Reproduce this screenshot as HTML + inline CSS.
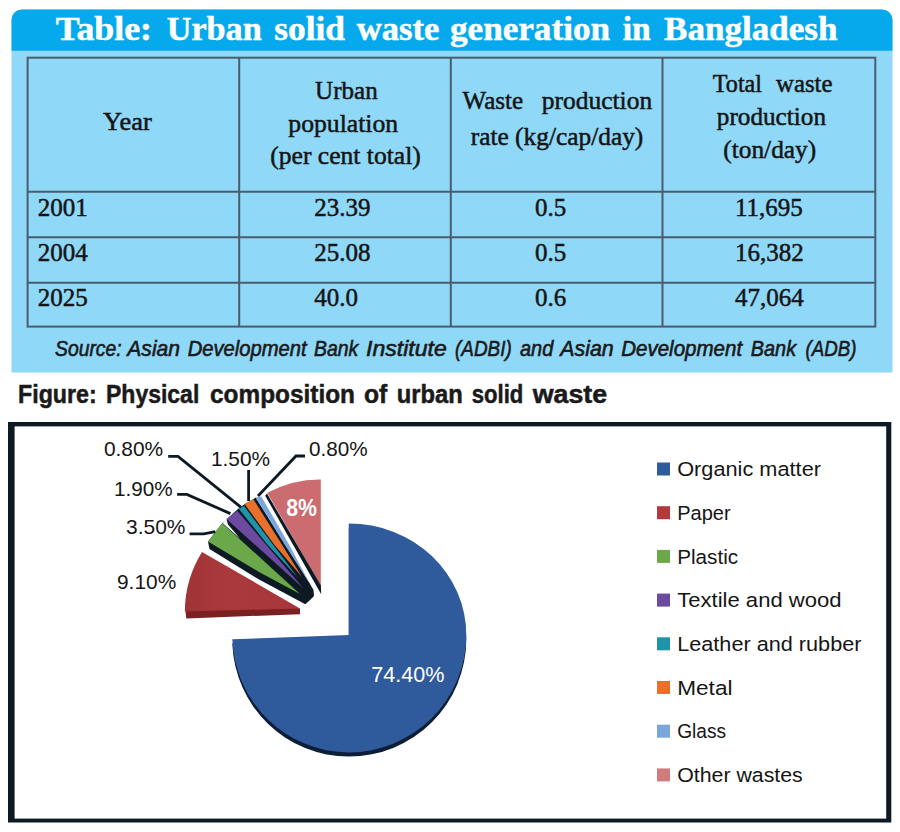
<!DOCTYPE html>
<html><head><meta charset="utf-8"><title>Urban solid waste</title>
<style>
html,body{margin:0;padding:0;background:#ffffff;}
body{width:900px;height:832px;overflow:hidden;font-family:"Liberation Sans",sans-serif;}
svg{display:block;}
text{white-space:pre;}
</style></head><body>
<svg width="900" height="832" viewBox="0 0 900 832">
<rect width="900" height="832" fill="#ffffff"/>
<path d="M11.5,372.5 V20 A10.5,10.5 0 0 1 22,9.5 H882 A10.5,10.5 0 0 1 892.5,20 V372.5 Z" fill="#8fd8f8"/>
<path d="M11.5,50.7 V20 A10.5,10.5 0 0 1 22,9.5 H882 A10.5,10.5 0 0 1 892.5,20 V50.7 Z" fill="#06aaec"/>
<text x="55.8" y="39.8" font-family='"Liberation Serif", serif' font-size="34.5" font-weight="bold" font-style="normal" fill="#ffffff" textLength="96.2" lengthAdjust="spacingAndGlyphs" stroke="#ffffff" stroke-width="0.5">Table:</text>
<text x="166.7" y="39.8" font-family='"Liberation Serif", serif' font-size="34.5" font-weight="bold" font-style="normal" fill="#ffffff" textLength="95.0" lengthAdjust="spacingAndGlyphs" stroke="#ffffff" stroke-width="0.5">Urban</text>
<text x="274.3" y="39.8" font-family='"Liberation Serif", serif' font-size="34.5" font-weight="bold" font-style="normal" fill="#ffffff" textLength="70.7" lengthAdjust="spacingAndGlyphs" stroke="#ffffff" stroke-width="0.5">solid</text>
<text x="356.7" y="39.8" font-family='"Liberation Serif", serif' font-size="34.5" font-weight="bold" font-style="normal" fill="#ffffff" textLength="82.6" lengthAdjust="spacingAndGlyphs" stroke="#ffffff" stroke-width="0.5">waste</text>
<text x="450" y="39.8" font-family='"Liberation Serif", serif' font-size="34.5" font-weight="bold" font-style="normal" fill="#ffffff" textLength="160.0" lengthAdjust="spacingAndGlyphs" stroke="#ffffff" stroke-width="0.5">generation</text>
<text x="622.7" y="39.8" font-family='"Liberation Serif", serif' font-size="34.5" font-weight="bold" font-style="normal" fill="#ffffff" textLength="28.0" lengthAdjust="spacingAndGlyphs" stroke="#ffffff" stroke-width="0.5">in</text>
<text x="664" y="39.8" font-family='"Liberation Serif", serif' font-size="34.5" font-weight="bold" font-style="normal" fill="#ffffff" textLength="173.5" lengthAdjust="spacingAndGlyphs" stroke="#ffffff" stroke-width="0.5">Bangladesh</text>
<g stroke="#4a5c6b" stroke-width="2" fill="none">
<rect x="27.6" y="57.7" width="847.6999999999999" height="268.90000000000003"/>
<line x1="239.2" y1="57.7" x2="239.2" y2="326.6"/>
<line x1="450.8" y1="57.7" x2="450.8" y2="326.6"/>
<line x1="662.5" y1="57.7" x2="662.5" y2="326.6"/>
<line x1="27.6" y1="191.8" x2="875.3" y2="191.8"/>
<line x1="27.6" y1="237.2" x2="875.3" y2="237.2"/>
<line x1="27.6" y1="282.7" x2="875.3" y2="282.7"/>
</g>
<g stroke="#151515" stroke-width="0.5">
<text x="103" y="130.3" font-family='"Liberation Serif", serif' font-size="25" font-weight="normal" font-style="normal" fill="#151515" textLength="48.7" lengthAdjust="spacingAndGlyphs">Year</text>
<text x="315.1" y="99.2" font-family='"Liberation Serif", serif' font-size="25" font-weight="normal" font-style="normal" fill="#151515" textLength="62.6" lengthAdjust="spacingAndGlyphs">Urban</text>
<text x="288.3" y="132.3" font-family='"Liberation Serif", serif' font-size="25" font-weight="normal" font-style="normal" fill="#151515" textLength="109.9" lengthAdjust="spacingAndGlyphs">population</text>
<text x="270.3" y="164" font-family='"Liberation Serif", serif' font-size="25" font-weight="normal" font-style="normal" fill="#151515" textLength="150.5" lengthAdjust="spacingAndGlyphs">(per cent total)</text>
<text x="462.5" y="109" font-family='"Liberation Serif", serif' font-size="25" font-weight="normal" font-style="normal" fill="#151515" textLength="60.7" lengthAdjust="spacingAndGlyphs">Waste</text>
<text x="541.8" y="109" font-family='"Liberation Serif", serif' font-size="25" font-weight="normal" font-style="normal" fill="#151515" textLength="110.4" lengthAdjust="spacingAndGlyphs">production</text>
<text x="470.7" y="145.3" font-family='"Liberation Serif", serif' font-size="25" font-weight="normal" font-style="normal" fill="#151515" textLength="172.6" lengthAdjust="spacingAndGlyphs">rate (kg/cap/day)</text>
<text x="712.8" y="91.5" font-family='"Liberation Serif", serif' font-size="25" font-weight="normal" font-style="normal" fill="#151515" textLength="49.2" lengthAdjust="spacingAndGlyphs">Total</text>
<text x="776" y="91.5" font-family='"Liberation Serif", serif' font-size="25" font-weight="normal" font-style="normal" fill="#151515" textLength="56.5" lengthAdjust="spacingAndGlyphs">waste</text>
<text x="716.8" y="125" font-family='"Liberation Serif", serif' font-size="25" font-weight="normal" font-style="normal" fill="#151515" textLength="109.2" lengthAdjust="spacingAndGlyphs">production</text>
<text x="723.3" y="158.2" font-family='"Liberation Serif", serif' font-size="25" font-weight="normal" font-style="normal" fill="#151515" textLength="92.9" lengthAdjust="spacingAndGlyphs">(ton/day)</text>
<text x="37.8" y="215.7" font-family='"Liberation Serif", serif' font-size="25" font-weight="normal" font-style="normal" fill="#151515">2001</text>
<text x="314.3" y="215.7" font-family='"Liberation Serif", serif' font-size="25" font-weight="normal" font-style="normal" fill="#151515">23.39</text>
<text x="535" y="215.7" font-family='"Liberation Serif", serif' font-size="25" font-weight="normal" font-style="normal" fill="#151515">0.5</text>
<text x="735" y="215.7" font-family='"Liberation Serif", serif' font-size="25" font-weight="normal" font-style="normal" fill="#151515">11,695</text>
<text x="37.8" y="261.1" font-family='"Liberation Serif", serif' font-size="25" font-weight="normal" font-style="normal" fill="#151515">2004</text>
<text x="314.3" y="261.1" font-family='"Liberation Serif", serif' font-size="25" font-weight="normal" font-style="normal" fill="#151515">25.08</text>
<text x="535" y="261.1" font-family='"Liberation Serif", serif' font-size="25" font-weight="normal" font-style="normal" fill="#151515">0.5</text>
<text x="735" y="261.1" font-family='"Liberation Serif", serif' font-size="25" font-weight="normal" font-style="normal" fill="#151515">16,382</text>
<text x="37.8" y="306" font-family='"Liberation Serif", serif' font-size="25" font-weight="normal" font-style="normal" fill="#151515">2025</text>
<text x="314.3" y="306" font-family='"Liberation Serif", serif' font-size="25" font-weight="normal" font-style="normal" fill="#151515">40.0</text>
<text x="535" y="306" font-family='"Liberation Serif", serif' font-size="25" font-weight="normal" font-style="normal" fill="#151515">0.6</text>
<text x="735" y="306" font-family='"Liberation Serif", serif' font-size="25" font-weight="normal" font-style="normal" fill="#151515">47,064</text>
</g>
<text x="55" y="356" font-family='"Liberation Sans", sans-serif' font-size="21.5" font-weight="normal" font-style="italic" fill="#1a1a1a" textLength="66.7" lengthAdjust="spacingAndGlyphs" stroke="#1a1a1a" stroke-width="0.6">Source:</text>
<text x="127.3" y="356" font-family='"Liberation Sans", sans-serif' font-size="21.5" font-weight="normal" font-style="italic" fill="#1a1a1a" textLength="52.7" lengthAdjust="spacingAndGlyphs" stroke="#1a1a1a" stroke-width="0.6">Asian</text>
<text x="187.7" y="356" font-family='"Liberation Sans", sans-serif' font-size="21.5" font-weight="normal" font-style="italic" fill="#1a1a1a" textLength="119.0" lengthAdjust="spacingAndGlyphs" stroke="#1a1a1a" stroke-width="0.6">Development</text>
<text x="314" y="356" font-family='"Liberation Sans", sans-serif' font-size="21.5" font-weight="normal" font-style="italic" fill="#1a1a1a" textLength="44.3" lengthAdjust="spacingAndGlyphs" stroke="#1a1a1a" stroke-width="0.6">Bank</text>
<text x="366" y="356" font-family='"Liberation Sans", sans-serif' font-size="21.5" font-weight="normal" font-style="italic" fill="#1a1a1a" textLength="80.7" lengthAdjust="spacingAndGlyphs" stroke="#1a1a1a" stroke-width="0.6">Institute</text>
<text x="455" y="356" font-family='"Liberation Sans", sans-serif' font-size="21.5" font-weight="normal" font-style="italic" fill="#1a1a1a" textLength="56.7" lengthAdjust="spacingAndGlyphs" stroke="#1a1a1a" stroke-width="0.6">(ADBI)</text>
<text x="520" y="356" font-family='"Liberation Sans", sans-serif' font-size="21.5" font-weight="normal" font-style="italic" fill="#1a1a1a" textLength="33.3" lengthAdjust="spacingAndGlyphs" stroke="#1a1a1a" stroke-width="0.6">and</text>
<text x="560.2" y="356" font-family='"Liberation Sans", sans-serif' font-size="21.5" font-weight="normal" font-style="italic" fill="#1a1a1a" textLength="53.5" lengthAdjust="spacingAndGlyphs" stroke="#1a1a1a" stroke-width="0.6">Asian</text>
<text x="621.2" y="356" font-family='"Liberation Sans", sans-serif' font-size="21.5" font-weight="normal" font-style="italic" fill="#1a1a1a" textLength="120.9" lengthAdjust="spacingAndGlyphs" stroke="#1a1a1a" stroke-width="0.6">Development</text>
<text x="750.8" y="356" font-family='"Liberation Sans", sans-serif' font-size="21.5" font-weight="normal" font-style="italic" fill="#1a1a1a" textLength="45.3" lengthAdjust="spacingAndGlyphs" stroke="#1a1a1a" stroke-width="0.6">Bank</text>
<text x="805.6" y="356" font-family='"Liberation Sans", sans-serif' font-size="21.5" font-weight="normal" font-style="italic" fill="#1a1a1a" textLength="51.0" lengthAdjust="spacingAndGlyphs" stroke="#1a1a1a" stroke-width="0.6">(ADB)</text>
<text x="18" y="403.4" font-family='"Liberation Sans", sans-serif' font-size="25.5" font-weight="bold" font-style="normal" fill="#1a1a1a" textLength="78.7" lengthAdjust="spacingAndGlyphs" stroke="#1a1a1a" stroke-width="0.5">Figure:</text>
<text x="106" y="403.4" font-family='"Liberation Sans", sans-serif' font-size="25.5" font-weight="bold" font-style="normal" fill="#1a1a1a" textLength="93.3" lengthAdjust="spacingAndGlyphs" stroke="#1a1a1a" stroke-width="0.5">Physical</text>
<text x="210" y="403.4" font-family='"Liberation Sans", sans-serif' font-size="25.5" font-weight="bold" font-style="normal" fill="#1a1a1a" textLength="145.0" lengthAdjust="spacingAndGlyphs" stroke="#1a1a1a" stroke-width="0.5">composition</text>
<text x="364" y="403.4" font-family='"Liberation Sans", sans-serif' font-size="25.5" font-weight="bold" font-style="normal" fill="#1a1a1a" textLength="23.3" lengthAdjust="spacingAndGlyphs" stroke="#1a1a1a" stroke-width="0.5">of</text>
<text x="396.7" y="403.4" font-family='"Liberation Sans", sans-serif' font-size="25.5" font-weight="bold" font-style="normal" fill="#1a1a1a" textLength="66.0" lengthAdjust="spacingAndGlyphs" stroke="#1a1a1a" stroke-width="0.5">urban</text>
<text x="471.7" y="403.4" font-family='"Liberation Sans", sans-serif' font-size="25.5" font-weight="bold" font-style="normal" fill="#1a1a1a" textLength="51.6" lengthAdjust="spacingAndGlyphs" stroke="#1a1a1a" stroke-width="0.5">solid</text>
<text x="532.7" y="403.4" font-family='"Liberation Sans", sans-serif' font-size="25.5" font-weight="bold" font-style="normal" fill="#1a1a1a" textLength="74.5" lengthAdjust="spacingAndGlyphs" stroke="#1a1a1a" stroke-width="0.5">waste</text>
<rect x="8" y="422" width="883.3" height="400.5" fill="#0d1a24"/>
<rect x="14.6" y="426.4" width="871.6" height="392.2" fill="#ffffff"/>
<path d="M348.8,635 L348.8,523.4 A117.5,111.6 0 0 1 466.3,635 A117.5,117.4 0 0 1 348.8,752.4 A116.6,117.4 0 0 1 232.3,639.3 Z" fill="#0e1e36" transform="translate(0,4.2)"/>
<path d="M348.8,635 L348.8,523.4 A117.5,111.6 0 0 1 466.3,635 A117.5,117.4 0 0 1 348.8,752.4 A116.6,117.4 0 0 1 232.3,639.3 Z" fill="#2f5b9c"/>
<path d="M320.8,586 L320.8,479.4 A111,111 0 0 0 267.2,492.8 Z" fill="#cb6c70"/>
<polygon points="267,493.6 320.9,585.5 321.2,594.2 265.2,495.7" fill="#0d1a24"/>
<polygon points="255.6,497.4 253.3,499.2 245.3,503.7 239.1,508.1 226.7,519.2 222.2,523.2 208,541.4 209.5,549 260,580.1 305.3,604.2 309.5,600.5 314,596 313.5,590 309.5,583" fill="#0d1a24"/>
<polygon points="226.3,518.7 228,524.5 240,538.6 222.7,523.3" fill="#ffffff"/>
<polygon points="255.6,497.4 261.3,496.6 289.3,545 309.5,583 284.9,545" fill="#7ba6dc"/>
<polygon points="244.6,504.1 253.3,499.2 282.2,545 302,577 274.5,545" fill="#e8702a"/>
<polygon points="238.5,508.4 244,505.9 273.3,545 298.2,578 267.8,545" fill="#1f93a8"/>
<polygon points="226.5,519 237.2,510.7 303.6,588.6" fill="#6b4aa0"/>
<polygon points="208,541.4 222.2,523.2 300,593.9 260,572.6" fill="#6aa84a"/>
<path d="M185.2,609 L186.3,618.5 L300,614.2 L300,608.6 L296,607.5 Z" fill="#7a2023"/>
<defs><linearGradient id="rg" x1="0" y1="0" x2="1" y2="0"><stop offset="0" stop-color="#9f3336"/><stop offset="0.35" stop-color="#aa393c"/><stop offset="1" stop-color="#a8373a"/></linearGradient></defs>
<path d="M300,608.4 L202,552.1 A114,114 0 0 0 184.8,611.5 Z" fill="url(#rg)"/>
<g stroke="#0d1a24" stroke-width="2.8" fill="none" stroke-linejoin="miter">
<polyline points="168.2,456.3 178,456.3 241.1,507.3"/>
<polyline points="177.1,494.4 186.9,494.4 230.4,513.6"/>
<polyline points="189.6,533.8 203.8,533.8 215.3,531.6"/>
<polyline points="248.6,470 248.6,501"/>
<polyline points="305,456 296,456 258,496"/>
</g>
<text x="103.9" y="456.3" font-family='"Liberation Sans", sans-serif' font-size="21" font-weight="normal" font-style="normal" fill="#151515" textLength="59.3" lengthAdjust="spacingAndGlyphs">0.80%</text>
<text x="114" y="496.1" font-family='"Liberation Sans", sans-serif' font-size="21" font-weight="normal" font-style="normal" fill="#151515" textLength="58.7" lengthAdjust="spacingAndGlyphs">1.90%</text>
<text x="126.1" y="534.1" font-family='"Liberation Sans", sans-serif' font-size="21" font-weight="normal" font-style="normal" fill="#151515" textLength="59.4" lengthAdjust="spacingAndGlyphs">3.50%</text>
<text x="117" y="588.9" font-family='"Liberation Sans", sans-serif' font-size="21" font-weight="normal" font-style="normal" fill="#151515" textLength="59.2" lengthAdjust="spacingAndGlyphs">9.10%</text>
<text x="211" y="465.6" font-family='"Liberation Sans", sans-serif' font-size="21" font-weight="normal" font-style="normal" fill="#151515" textLength="59.0" lengthAdjust="spacingAndGlyphs">1.50%</text>
<text x="309" y="456" font-family='"Liberation Sans", sans-serif' font-size="21" font-weight="normal" font-style="normal" fill="#151515" textLength="58.6" lengthAdjust="spacingAndGlyphs">0.80%</text>
<text x="286.3" y="516.3" font-family='"Liberation Sans", sans-serif' font-size="23" font-weight="bold" font-style="normal" fill="#ffffff" textLength="30.7" lengthAdjust="spacingAndGlyphs">8%</text>
<text x="371.2" y="682.4" font-family='"Liberation Sans", sans-serif' font-size="22" font-weight="normal" font-style="normal" fill="#ffffff" textLength="73.2" lengthAdjust="spacingAndGlyphs">74.40%</text>
<rect x="657" y="462.5" width="13" height="13" fill="#2f5b9c"/>
<text x="677.2" y="476.2" font-family='"Liberation Sans", sans-serif' font-size="20.5" font-weight="normal" font-style="normal" fill="#151515" textLength="143.8" lengthAdjust="spacingAndGlyphs">Organic matter</text>
<rect x="657" y="506.2" width="13" height="13" fill="#b03a3c"/>
<text x="677.2" y="519.9" font-family='"Liberation Sans", sans-serif' font-size="20.5" font-weight="normal" font-style="normal" fill="#151515" textLength="53.4" lengthAdjust="spacingAndGlyphs">Paper</text>
<rect x="657" y="549.9" width="13" height="13" fill="#6aa84a"/>
<text x="677.2" y="563.6" font-family='"Liberation Sans", sans-serif' font-size="20.5" font-weight="normal" font-style="normal" fill="#151515" textLength="61.0" lengthAdjust="spacingAndGlyphs">Plastic</text>
<rect x="657" y="593.6" width="13" height="13" fill="#6b4aa0"/>
<text x="677.2" y="607.3" font-family='"Liberation Sans", sans-serif' font-size="20.5" font-weight="normal" font-style="normal" fill="#151515" textLength="164.4" lengthAdjust="spacingAndGlyphs">Textile and wood</text>
<rect x="657" y="637.3" width="13" height="13" fill="#1f93a8"/>
<text x="677.2" y="651.0" font-family='"Liberation Sans", sans-serif' font-size="20.5" font-weight="normal" font-style="normal" fill="#151515" textLength="184.3" lengthAdjust="spacingAndGlyphs">Leather and rubber</text>
<rect x="657" y="681.0" width="13" height="13" fill="#e8702a"/>
<text x="677.2" y="694.7" font-family='"Liberation Sans", sans-serif' font-size="20.5" font-weight="normal" font-style="normal" fill="#151515" textLength="55.3" lengthAdjust="spacingAndGlyphs">Metal</text>
<rect x="657" y="724.7" width="13" height="13" fill="#7ba6dc"/>
<text x="677.2" y="738.4" font-family='"Liberation Sans", sans-serif' font-size="20.5" font-weight="normal" font-style="normal" fill="#151515" textLength="48.9" lengthAdjust="spacingAndGlyphs">Glass</text>
<rect x="657" y="768.4" width="13" height="13" fill="#d27b7e"/>
<text x="677.2" y="782.1" font-family='"Liberation Sans", sans-serif' font-size="20.5" font-weight="normal" font-style="normal" fill="#151515" textLength="125.6" lengthAdjust="spacingAndGlyphs">Other wastes</text>
</svg>
</body></html>
